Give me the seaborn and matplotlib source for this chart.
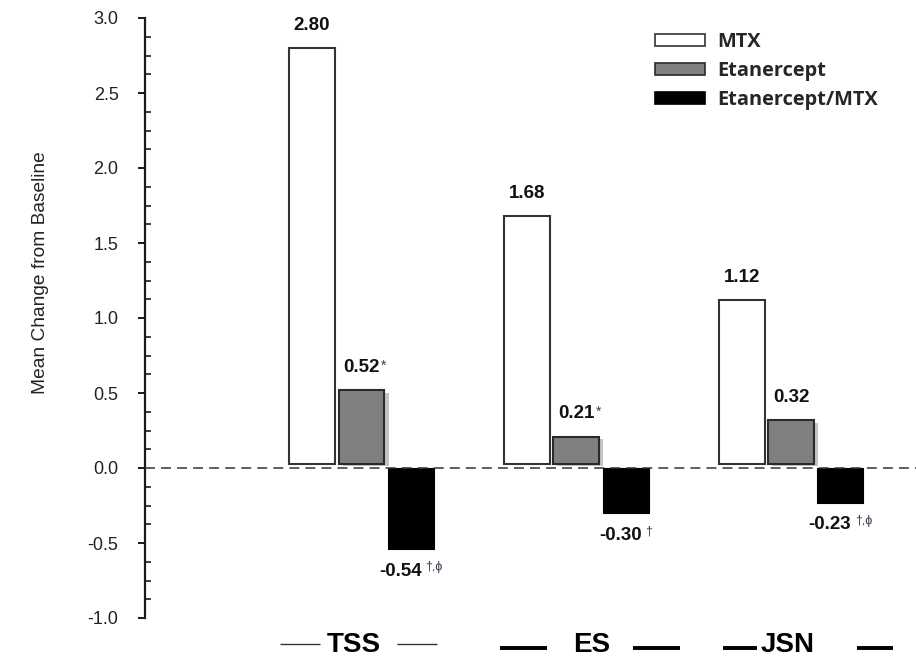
import matplotlib
matplotlib.use("Agg")
import matplotlib.pyplot as plt
import matplotlib.patheffects as pe
import matplotlib.transforms as mtransforms
from matplotlib.patches import Patch
from matplotlib.ticker import MultipleLocator, FixedLocator
import seaborn as sns
import pandas as pd
import numpy as np

# ---------------- data ----------------
categories = ["TSS", "ES", "JSN"]
treatments = ["MTX", "Etanercept", "Etanercept/MTX"]
mtx = [2.80, 1.68, 1.12]
etanercept = [0.52, 0.21, 0.32]
combo = [-0.54, -0.30, -0.23]
sup_mtx = ["", "", ""]
sup_etanercept = ["*", "*", ""]
sup_combo = ["\u2020,\u03d5", "\u2020", "\u2020,\u03d5"]
yticks = [-1.0, -0.5, 0.0, 0.5, 1.0, 1.5, 2.0, 2.5, 3.0]
ytick_labels = ["-1.0", "-0.5", "0.0", "0.5", "1.0", "1.5", "2.0", "2.5", "3.0"]
y_label = "Mean Change from Baseline"

df = pd.DataFrame({
    "category": categories * 3,
    "treatment": np.repeat(treatments, len(categories)),
    "value": mtx + etanercept + combo,
    "sup": sup_mtx + sup_etanercept + sup_combo,
})

# ---------------- style ----------------
sns.set_theme(style="white")
plt.rcParams["font.family"] = ["Liberation Sans", "DejaVu Sans"]

fill = {"MTX": "#ffffff", "Etanercept": "#808080", "Etanercept/MTX": "#000000"}
edge = {"MTX": "#333333", "Etanercept": "#2a2a2a", "Etanercept/MTX": "#000000"}
BASE_GAP = 0.03

fig = plt.figure(figsize=(9.16, 6.58), dpi=100)
ax = fig.add_axes([145 / 916, 40 / 658, 771 / 916, 600 / 658])

sns.barplot(data=df, x="category", y="value", hue="treatment",
            order=categories, hue_order=treatments, palette=fill,
            saturation=1, width=0.69, gap=0.07, errorbar=None,
            edgecolor="#333333", linewidth=1.5, legend=False, ax=ax)

ax.set_xlim(-1.008, 2.582)
ax.set_ylim(-1.0, 3.0)

# sort bars by position -> category-major, hue-minor order
bars = sorted(ax.patches, key=lambda p: p.get_x())
records = []
for j, cat in enumerate(categories):
    for i, tr in enumerate(treatments):
        row = df[(df.category == cat) & (df.treatment == tr)].iloc[0]
        records.append((tr, row.value, row.sup))

for p, (tr, val, sup) in zip(bars, records):
    p.set_edgecolor(edge[tr])
    p.set_linewidth(1.5 if tr != "Etanercept/MTX" else 0.8)
    if val > 0:
        h = p.get_height()
        p.set_y(BASE_GAP)
        p.set_height(h - BASE_GAP)
    if tr == "Etanercept":
        p.set_path_effects([pe.SimplePatchShadow(offset=(3, -2), shadow_rgbFace="#c4c4c4", alpha=1.0),
                            pe.Normal()])

# zero line
ax.axhline(0, color="#333333", lw=1.1, ls=(0, (6.5, 4)), zorder=3)

# spines & ticks
sns.despine(ax=ax, top=True, right=True, bottom=True)
ax.spines["left"].set_color("#1a1a1a")
ax.spines["left"].set_linewidth(1.6)
ax.yaxis.set_major_locator(FixedLocator(yticks))
ax.set_yticklabels(ytick_labels)
ax.yaxis.set_minor_locator(MultipleLocator(0.125))
ax.tick_params(axis="y", which="major", direction="out", left=True, length=5,
               width=1.4, color="#1a1a1a", labelsize=13, pad=14, labelcolor="#222222")
ax.tick_params(axis="y", which="minor", direction="in", left=True, length=4,
               width=1.2, color="#1a1a1a")
ax.set_xticks([])
ax.set_xlabel("")
ax.set_ylabel(y_label, fontsize=13.8, color="#222222")
ax.yaxis.set_label_coords(-0.124, 0.575)

# value labels
neg_pairs = []
for p, (tr, val, sup) in zip(bars, records):
    xc = p.get_x() + p.get_width() / 2
    yoff = 23 if val > 0 else -22
    txt = ax.annotate(f"{val:.2f}", xy=(xc, val), xytext=(0, yoff),
                      textcoords="offset pixels", ha="center", va="center",
                      fontsize=13.5, fontweight="bold", color="#111111")
    if sup:
        star = sup.startswith("*")
        st = ax.annotate(sup, xy=(1, 0.72 if not star else 0.6), xycoords=txt,
                         xytext=(1 if star else 4, 0),
                         textcoords="offset pixels", ha="left", va="center",
                         fontsize=10 if star else 9, color="#3a3a50")
        if val < 0:
            neg_pairs.append((txt, st, yoff))

fig.canvas.draw()
renderer = fig.canvas.get_renderer()
for txt, st, yoff in neg_pairs:
    b1 = txt.get_window_extent(renderer)
    b2 = st.get_window_extent(renderer)
    shift = (b2.x1 - b1.x1) / 2
    txt.xyann = (-shift, yoff)

# group labels with side dashes
blend = mtransforms.blended_transform_factory(ax.transData, ax.transAxes)
label_dx = [-0.037, 0.07, -0.016]
dash_spec = [
    ((-0.380, -0.193), (0.165, 0.352), 1.0, "#333333", -0.043),
    ((-0.354, -0.135), (0.265, 0.484), 2.8, "#000000", -0.050),
    ((-0.317, -0.158), (0.307, 0.475), 2.8, "#000000", -0.050),
]
for j, cat in enumerate(categories):
    ax.text(j + label_dx[j], -0.045, cat, transform=blend, ha="center", va="center",
            fontsize=20, fontweight="bold", color="#000000", clip_on=False)
    left, right, lw, col, yy = dash_spec[j]
    for a, b in (left, right):
        ax.plot([j + a, j + b], [yy, yy], transform=blend, color=col, lw=lw,
                solid_capstyle="butt", clip_on=False)

# legend
handles = [Patch(facecolor=fill[t], edgecolor=edge[t], linewidth=1.2) for t in treatments]
leg = ax.legend(handles, treatments, loc="upper left",
                bbox_to_anchor=(655 / 916, 1 - 32 / 658), bbox_transform=fig.transFigure,
                frameon=False, borderpad=0, borderaxespad=0,
                handlelength=2.5, handleheight=0.6, handletextpad=0.62,
                labelspacing=0.45,
                prop={"family": ["Open Sans", "DejaVu Sans"], "weight": "bold", "size": 14.4})

fig.savefig("out.png", dpi=100)
